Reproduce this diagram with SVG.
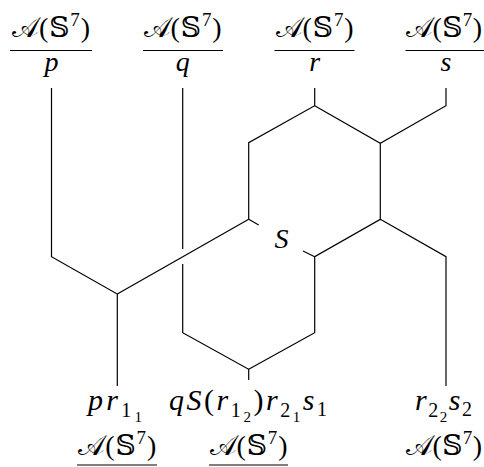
<svg xmlns="http://www.w3.org/2000/svg" width="484" height="467" viewBox="0 0 484 467">
<style>
text{font-family:'Liberation Serif','Times New Roman',serif;font-size:28px;fill:#000}
.m{font-family:'DejaVu Serif','DejaVu Sans',serif}
.i{font-style:italic}
.lbl{font-size:30px}
.sup{font-size:19px}
.s1{font-size:20px}
.s2{font-size:15px}
.w{stroke:#000;stroke-width:1.2;fill:none;stroke-linejoin:miter}
.bar{stroke:#000;stroke-width:1.1}
</style>
<g id="top-p">
<text x="51" y="37" text-anchor="middle" textLength="78"><tspan class="m">𝒜</tspan>(<tspan class="m">𝕊</tspan><tspan class="sup" dy="-11">7</tspan><tspan dy="11">)</tspan></text>
<line class="bar" x1="10" y1="50.5" x2="92" y2="50.5"/>
<text class="i" x="51.5" y="71" text-anchor="middle" font-size="30">p</text>
</g>
<g id="top-q">
<text x="182.7" y="37" text-anchor="middle" textLength="78"><tspan class="m">𝒜</tspan>(<tspan class="m">𝕊</tspan><tspan class="sup" dy="-11">7</tspan><tspan dy="11">)</tspan></text>
<line class="bar" x1="143" y1="50.5" x2="223" y2="50.5"/>
<text class="i" x="182.7" y="71" text-anchor="middle" font-size="30">q</text>
</g>
<g id="top-r">
<text x="314.7" y="37" text-anchor="middle" textLength="78"><tspan class="m">𝒜</tspan>(<tspan class="m">𝕊</tspan><tspan class="sup" dy="-11">7</tspan><tspan dy="11">)</tspan></text>
<line class="bar" x1="274.5" y1="50.5" x2="354.5" y2="50.5"/>
<text class="i" x="314.7" y="71" text-anchor="middle" font-size="30">r</text>
</g>
<g id="top-s">
<text x="444" y="37" text-anchor="middle" textLength="76"><tspan class="m">𝒜</tspan>(<tspan class="m">𝕊</tspan><tspan class="sup" dy="-11">7</tspan><tspan dy="11">)</tspan></text>
<line class="bar" x1="405.5" y1="50.5" x2="484" y2="50.5"/>
<text class="i" x="446" y="71" text-anchor="middle" font-size="30">s</text>
</g>
<g id="S">
<text class="i" x="281.5" y="248" text-anchor="middle" font-size="30">S</text>
</g>
<g id="connectors">
<path class="w" d="M51.5 88 V256.7 L117.3 294 V386"/>
<path class="w" d="M117.3 294 L248.7 219.3"/>
<path class="w" d="M182.7 88 V249 M182.7 264 V332.7 L248.7 369.3 V380"/>
<path class="w" d="M248.7 219.3 V142.7 L314.7 105.7 V88 M314.7 105.7 L380.3 143.3 L446 105.7 V88 M380.3 143.3 V219.3 L314.7 256.7 V332.7 L248.7 369.3 M380.3 219.3 L446 256.7 V386"/>
<path class="w" d="M248.7 219.3 L258.7 225 M303 251 L314.7 256.7"/>
</g>
<g id="bottom-1">
<text class="lbl" x="115" y="410" text-anchor="middle" textLength="54"><tspan class="i">pr</tspan><tspan class="s1" dy="7">1</tspan><tspan class="s2" dy="5">1</tspan></text>
<text x="117.3" y="455" text-anchor="middle" textLength="78"><tspan class="m">𝒜</tspan>(<tspan class="m">𝕊</tspan><tspan class="sup" dy="-11">7</tspan><tspan dy="11">)</tspan></text>
<line class="bar" x1="77" y1="465" x2="157" y2="465"/>
</g>
<g id="bottom-2">
<text class="lbl" x="248" y="410" text-anchor="middle" textLength="158"><tspan class="i">qS</tspan>(<tspan class="i">r</tspan><tspan class="s1" dy="7">1</tspan><tspan class="s2" dy="5">2</tspan><tspan dy="-12">)</tspan><tspan class="i">r</tspan><tspan class="s1" dy="7">2</tspan><tspan class="s2" dy="5">1</tspan><tspan class="i" dy="-12">s</tspan><tspan class="s1" dy="6">1</tspan></text>
<text x="248.5" y="455" text-anchor="middle" textLength="78"><tspan class="m">𝒜</tspan>(<tspan class="m">𝕊</tspan><tspan class="sup" dy="-11">7</tspan><tspan dy="11">)</tspan></text>
<line class="bar" x1="209" y1="465" x2="288" y2="465"/>
</g>
<g id="bottom-3">
<text class="lbl" x="443.5" y="410" text-anchor="middle" textLength="57"><tspan class="i">r</tspan><tspan class="s1" dy="7">2</tspan><tspan class="s2" dy="5">2</tspan><tspan class="i" dy="-12">s</tspan><tspan class="s1" dy="6">2</tspan></text>
<text x="444" y="455" text-anchor="middle" textLength="76"><tspan class="m">𝒜</tspan>(<tspan class="m">𝕊</tspan><tspan class="sup" dy="-11">7</tspan><tspan dy="11">)</tspan></text>
</g>
</svg>
